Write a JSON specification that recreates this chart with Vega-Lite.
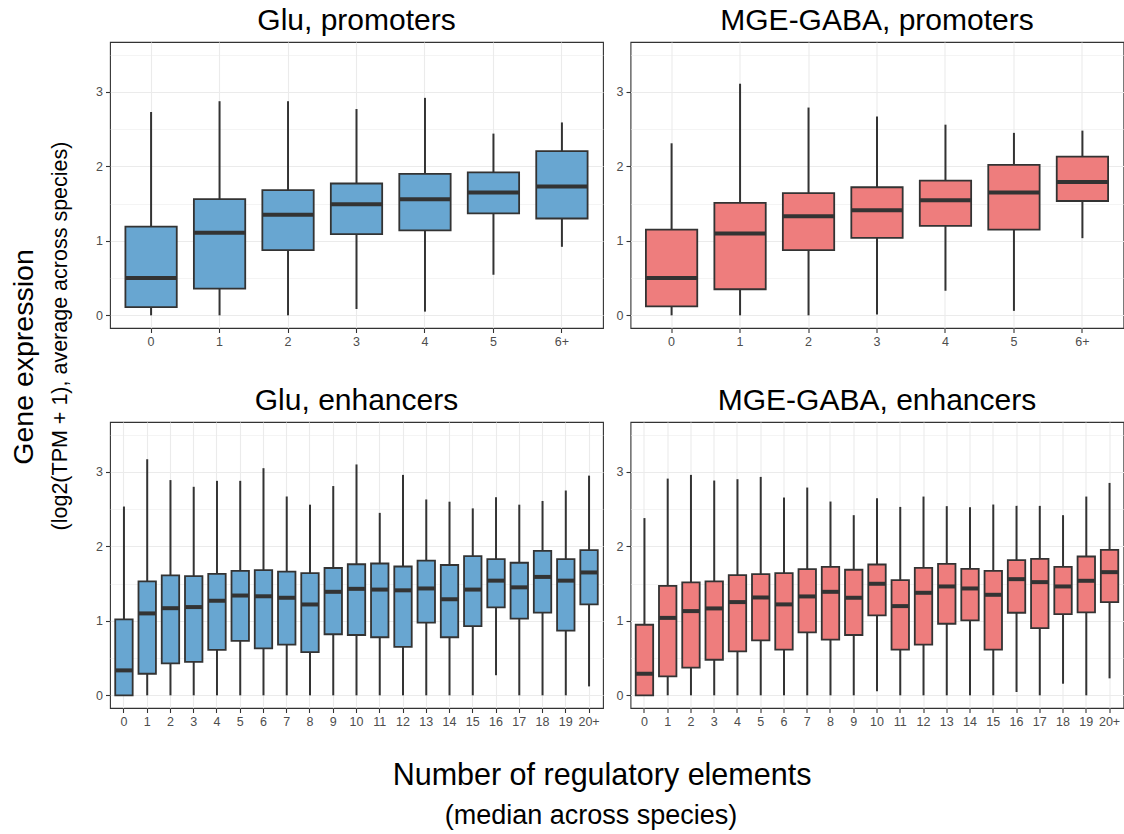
{
  "$schema": "https://vega.github.io/schema/vega-lite/v6.json",
  "background": "white",
  "padding": {"left": 9, "top": 5, "right": 0, "bottom": 0},
  "config": {
    "font": "Liberation Sans",
    "view": {"stroke": "#333333", "strokeWidth": 1.1},
    "title": {
      "font": "Liberation Sans",
      "fontWeight": "normal",
      "color": "#000000",
      "anchor": "middle"
    },
    "axis": {
      "domain": false,
      "labelFont": "Liberation Sans",
      "labelFontSize": 12.5,
      "labelColor": "#4D4D4D",
      "labelPadding": 3,
      "tickColor": "#333333",
      "tickSize": 4.5,
      "tickWidth": 1.1,
      "gridColor": "#EBEBEB",
      "gridWidth": 1.1,
      "title": null
    }
  },
  "title": {"text": "(median across species)", "orient": "bottom", "fontSize": 27, "offset": 12, "dx": 24},
  "vconcat": [
    {
      "title": {"text": "Number of regulatory elements", "orient": "bottom", "fontSize": 30.5, "offset": 32, "dx": 35},
      "vconcat": [
        {
          "title": {"text": "Gene expression", "orient": "left", "fontSize": 28.5, "offset": 12, "dx": 10},
          "vconcat": [
            {
              "title": {"text": "(log2(TPM + 1), average across species)", "orient": "left", "fontSize": 21.5, "offset": 23, "dx": 31},
              "data": {
                "values": [
                  {"panel": "Glu, promoters", "n": "0", "lo": 0, "q1": 0.11, "med": 0.5, "q3": 1.19, "hi": 2.73},
                  {"panel": "Glu, promoters", "n": "1", "lo": 0, "q1": 0.36, "med": 1.11, "q3": 1.56, "hi": 2.875},
                  {"panel": "Glu, promoters", "n": "2", "lo": 0, "q1": 0.875, "med": 1.35, "q3": 1.68, "hi": 2.875},
                  {"panel": "Glu, promoters", "n": "3", "lo": 0.085, "q1": 1.09, "med": 1.49, "q3": 1.77, "hi": 2.77},
                  {"panel": "Glu, promoters", "n": "4", "lo": 0.05, "q1": 1.14, "med": 1.56, "q3": 1.9, "hi": 2.92},
                  {"panel": "Glu, promoters", "n": "5", "lo": 0.545, "q1": 1.37, "med": 1.65, "q3": 1.92, "hi": 2.44},
                  {"panel": "Glu, promoters", "n": "6+", "lo": 0.92, "q1": 1.3, "med": 1.73, "q3": 2.205, "hi": 2.59},

                  {"panel": "MGE-GABA, promoters", "n": "0", "lo": 0, "q1": 0.12, "med": 0.5, "q3": 1.15, "hi": 2.31},
                  {"panel": "MGE-GABA, promoters", "n": "1", "lo": 0, "q1": 0.35, "med": 1.1, "q3": 1.51, "hi": 3.11},
                  {"panel": "MGE-GABA, promoters", "n": "2", "lo": 0, "q1": 0.875, "med": 1.33, "q3": 1.64, "hi": 2.79},
                  {"panel": "MGE-GABA, promoters", "n": "3", "lo": 0.01, "q1": 1.04, "med": 1.41, "q3": 1.72, "hi": 2.67},
                  {"panel": "MGE-GABA, promoters", "n": "4", "lo": 0.33, "q1": 1.2, "med": 1.545, "q3": 1.81, "hi": 2.56},
                  {"panel": "MGE-GABA, promoters", "n": "5", "lo": 0.06, "q1": 1.15, "med": 1.65, "q3": 2.02, "hi": 2.45},
                  {"panel": "MGE-GABA, promoters", "n": "6+", "lo": 1.036, "q1": 1.535, "med": 1.79, "q3": 2.13, "hi": 2.48},

                  {"panel": "Glu, enhancers", "n": "0", "lo": 0, "q1": 0, "med": 0.335, "q3": 1.02, "hi": 2.535},
                  {"panel": "Glu, enhancers", "n": "1", "lo": 0, "q1": 0.29, "med": 1.1, "q3": 1.53, "hi": 3.17},
                  {"panel": "Glu, enhancers", "n": "2", "lo": 0, "q1": 0.43, "med": 1.17, "q3": 1.61, "hi": 2.89},
                  {"panel": "Glu, enhancers", "n": "3", "lo": 0, "q1": 0.45, "med": 1.185, "q3": 1.6, "hi": 2.8},
                  {"panel": "Glu, enhancers", "n": "4", "lo": 0, "q1": 0.61, "med": 1.27, "q3": 1.63, "hi": 2.88},
                  {"panel": "Glu, enhancers", "n": "5", "lo": 0, "q1": 0.73, "med": 1.34, "q3": 1.67, "hi": 2.88},
                  {"panel": "Glu, enhancers", "n": "6", "lo": 0, "q1": 0.63, "med": 1.33, "q3": 1.68, "hi": 3.05},
                  {"panel": "Glu, enhancers", "n": "7", "lo": 0, "q1": 0.68, "med": 1.31, "q3": 1.66, "hi": 2.67},
                  {"panel": "Glu, enhancers", "n": "8", "lo": 0, "q1": 0.58, "med": 1.22, "q3": 1.64, "hi": 2.56},
                  {"panel": "Glu, enhancers", "n": "9", "lo": 0, "q1": 0.82, "med": 1.39, "q3": 1.71, "hi": 2.81},
                  {"panel": "Glu, enhancers", "n": "10", "lo": 0, "q1": 0.81, "med": 1.43, "q3": 1.76, "hi": 3.1},
                  {"panel": "Glu, enhancers", "n": "11", "lo": 0, "q1": 0.78, "med": 1.42, "q3": 1.77, "hi": 2.45},
                  {"panel": "Glu, enhancers", "n": "12", "lo": 0, "q1": 0.65, "med": 1.41, "q3": 1.73, "hi": 2.96},
                  {"panel": "Glu, enhancers", "n": "13", "lo": 0, "q1": 0.975, "med": 1.435, "q3": 1.81, "hi": 2.63},
                  {"panel": "Glu, enhancers", "n": "14", "lo": 0, "q1": 0.78, "med": 1.29, "q3": 1.75, "hi": 2.6},
                  {"panel": "Glu, enhancers", "n": "15", "lo": 0, "q1": 0.93, "med": 1.42, "q3": 1.87, "hi": 2.51},
                  {"panel": "Glu, enhancers", "n": "16", "lo": 0.27, "q1": 1.18, "med": 1.54, "q3": 1.83, "hi": 2.66},
                  {"panel": "Glu, enhancers", "n": "17", "lo": 0, "q1": 1.03, "med": 1.45, "q3": 1.78, "hi": 2.56},
                  {"panel": "Glu, enhancers", "n": "18", "lo": 0, "q1": 1.11, "med": 1.59, "q3": 1.94, "hi": 2.61},
                  {"panel": "Glu, enhancers", "n": "19", "lo": 0, "q1": 0.87, "med": 1.54, "q3": 1.83, "hi": 2.75},
                  {"panel": "Glu, enhancers", "n": "20+", "lo": 0.12, "q1": 1.22, "med": 1.65, "q3": 1.95, "hi": 2.95},

                  {"panel": "MGE-GABA, enhancers", "n": "0", "lo": 0, "q1": 0, "med": 0.29, "q3": 0.948, "hi": 2.38},
                  {"panel": "MGE-GABA, enhancers", "n": "1", "lo": 0, "q1": 0.255, "med": 1.04, "q3": 1.47, "hi": 2.91},
                  {"panel": "MGE-GABA, enhancers", "n": "2", "lo": 0, "q1": 0.371, "med": 1.131, "q3": 1.516, "hi": 2.96},
                  {"panel": "MGE-GABA, enhancers", "n": "3", "lo": 0, "q1": 0.478, "med": 1.167, "q3": 1.529, "hi": 2.884},
                  {"panel": "MGE-GABA, enhancers", "n": "4", "lo": 0, "q1": 0.59, "med": 1.252, "q3": 1.614, "hi": 2.902},
                  {"panel": "MGE-GABA, enhancers", "n": "5", "lo": 0, "q1": 0.738, "med": 1.314, "q3": 1.627, "hi": 2.933},
                  {"panel": "MGE-GABA, enhancers", "n": "6", "lo": 0, "q1": 0.613, "med": 1.221, "q3": 1.641, "hi": 2.656},
                  {"panel": "MGE-GABA, enhancers", "n": "7", "lo": 0, "q1": 0.845, "med": 1.328, "q3": 1.694, "hi": 2.79},
                  {"panel": "MGE-GABA, enhancers", "n": "8", "lo": 0, "q1": 0.747, "med": 1.39, "q3": 1.726, "hi": 2.602},
                  {"panel": "MGE-GABA, enhancers", "n": "9", "lo": 0, "q1": 0.81, "med": 1.31, "q3": 1.686, "hi": 2.419},
                  {"panel": "MGE-GABA, enhancers", "n": "10", "lo": 0.054, "q1": 1.073, "med": 1.498, "q3": 1.757, "hi": 2.647},
                  {"panel": "MGE-GABA, enhancers", "n": "11", "lo": 0, "q1": 0.613, "med": 1.198, "q3": 1.547, "hi": 2.53},
                  {"panel": "MGE-GABA, enhancers", "n": "12", "lo": 0, "q1": 0.68, "med": 1.377, "q3": 1.712, "hi": 2.669},
                  {"panel": "MGE-GABA, enhancers", "n": "13", "lo": 0, "q1": 0.961, "med": 1.462, "q3": 1.766, "hi": 2.54},
                  {"panel": "MGE-GABA, enhancers", "n": "14", "lo": 0, "q1": 1.006, "med": 1.435, "q3": 1.699, "hi": 2.526},
                  {"panel": "MGE-GABA, enhancers", "n": "15", "lo": 0, "q1": 0.613, "med": 1.35, "q3": 1.672, "hi": 2.562},
                  {"panel": "MGE-GABA, enhancers", "n": "16", "lo": 0.045, "q1": 1.109, "med": 1.56, "q3": 1.815, "hi": 2.544},
                  {"panel": "MGE-GABA, enhancers", "n": "17", "lo": 0, "q1": 0.903, "med": 1.52, "q3": 1.833, "hi": 2.544},
                  {"panel": "MGE-GABA, enhancers", "n": "18", "lo": 0.156, "q1": 1.091, "med": 1.462, "q3": 1.726, "hi": 2.419},
                  {"panel": "MGE-GABA, enhancers", "n": "19", "lo": 0, "q1": 1.113, "med": 1.538, "q3": 1.864, "hi": 2.669},
                  {"panel": "MGE-GABA, enhancers", "n": "20+", "lo": 0.228, "q1": 1.252, "med": 1.654, "q3": 1.954, "hi": 2.852}
                ]
              },
              "facet": {
                "field": "panel",
                "type": "nominal",
                "sort": ["Glu, promoters", "MGE-GABA, promoters", "Glu, enhancers", "MGE-GABA, enhancers"],
                "header": {
                  "title": null,
                  "labelFont": "Liberation Sans",
                  "labelFontSize": 30,
                  "labelColor": "#000000",
                  "labelPadding": 6
                }
              },
              "columns": 2,
              "spacing": {"row": 36, "column": 10.5},
              "resolve": {
                "scale": {"x": "independent"},
                "axis": {"x": "independent", "y": "independent"}
              },
              "spec": {
                "width": 493,
                "height": 286,
                "encoding": {
                  "x": {
                    "field": "n",
                    "type": "nominal",
                    "sort": ["0", "1", "2", "3", "4", "5", "6+", "6", "7", "8", "9", "10", "11", "12", "13", "14", "15", "16", "17", "18", "19", "20+"],
                    "scale": {"paddingInner": 0.25, "paddingOuter": 0.225},
                    "axis": {"labelAngle": 0, "grid": true, "bandPosition": 0.5}
                  }
                },
                "layer": [
                  {
                    "mark": {"type": "rule", "color": "#333333", "strokeWidth": 2},
                    "encoding": {
                      "y": {
                        "field": "lo",
                        "type": "quantitative",
                        "scale": {"domain": [-0.17, 3.67], "nice": false, "zero": false},
                        "axis": {
                          "values": [0, 0.5, 1, 1.5, 2, 2.5, 3, 3.5],
                          "labelExpr": "datum.value % 1 === 0 ? format(datum.value, 'd') : ''",
                          "gridWidth": {"condition": {"test": "datum.value % 1 === 0", "value": 1.1}, "value": 0.55},
                          "tickOpacity": {"condition": {"test": "datum.value % 1 === 0", "value": 1}, "value": 0}
                        }
                      },
                      "y2": {"field": "hi"}
                    }
                  },
                  {
                    "mark": {"type": "bar", "stroke": "#333333", "strokeWidth": 1.8},
                    "encoding": {
                      "y": {"field": "q1", "type": "quantitative"},
                      "y2": {"field": "q3"},
                      "fill": {
                        "field": "panel",
                        "type": "nominal",
                        "scale": {
                          "domain": ["Glu, promoters", "MGE-GABA, promoters", "Glu, enhancers", "MGE-GABA, enhancers"],
                          "range": ["#68A6D1", "#EE7D7D", "#68A6D1", "#EE7D7D"]
                        },
                        "legend": null
                      }
                    }
                  },
                  {
                    "mark": {"type": "tick", "color": "#333333", "thickness": 4, "opacity": 1},
                    "encoding": {
                      "y": {"field": "med", "type": "quantitative"}
                    }
                  }
                ]
              }
            }
          ]
        }
      ]
    }
  ]
}
